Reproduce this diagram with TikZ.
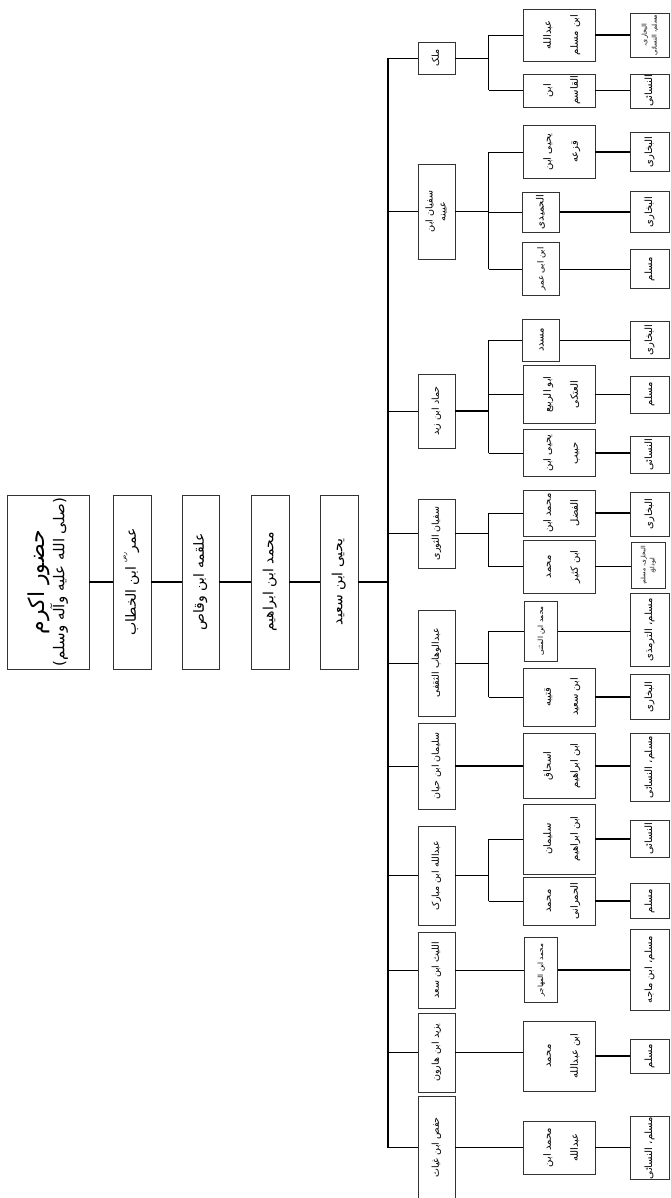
\documentclass[tikz,border=0pt]{standalone}
\usepackage{fontspec}
\usepackage{graphicx}
\newfontfamily\arfont[Script=Arabic]{DejaVu Sans}
\TeXXeTstate=1
\newcommand{\urd}[1]{\beginR #1\endR}
\newcommand{\vt}[3]{\rotatebox{90}{\fontsize{#1}{#2}\selectfont\begin{tabular}{@{}c@{}}#3\end{tabular}}}
\newcommand{\bx}[6]{\node[box, minimum width=#4pt, minimum height=#5pt] (#1) at (#2,#3) {#6};}
\tikzset{
  box/.style={draw=black!80, line width=0.9pt, inner sep=0pt, fill=white, font=\arfont},
  thk/.style={line width=1.8pt},
  thn/.style={line width=0.8pt},
  busline/.style={line width=1.3pt}
}
\begin{document}
\begin{tikzpicture}[x=1pt,y=-1pt]
\useasboundingbox (0,0) rectangle (670,1198);
% chain
\bx{c1}{48}{582}{82}{174}{\rotatebox{90}{\begin{tabular}{@{}c@{}}\fontsize{22}{28}\selectfont\urd{حضور اکرم}\\[2pt]\fontsize{15}{18}\selectfont\urd{(صلی الله علیه وآله وسلم)}\end{tabular}}}
\bx{c2}{132}{582}{38}{174}{\vt{14}{17}{\urd{عمر\raisebox{1.3ex}{\fontsize{6}{7}\selectfont رض} ابن الخطاب}}}
\bx{c3}{200.5}{582}{37}{174}{\vt{14}{17}{\urd{علقمه ابن وقاص}}}
\bx{c4}{270}{582}{38}{174}{\vt{14}{17}{\urd{محمد ابن ابراهیم}}}
\bx{c5}{339}{582}{38}{174}{\vt{14}{17}{\urd{یحیی ابن سعید}}}
\coordinate (busc) at (388,582);
\draw[thk] (c1) -- (c2);
\draw[thk] (c2) -- (c3);
\draw[thk] (c3) -- (c4);
\draw[thk] (c4) -- (c5);
\draw[thk] (c5.east) -- (busc);
% level 1
\bx{L1}{436.5}{58}{37}{32}{\vt{9.5}{12}{\urd{ملک}}}
\bx{L2}{436.5}{211.5}{37}{95}{\vt{9.5}{13}{\urd{سفیان ابن}\\\urd{عیینه}}}
\bx{L3}{436.5}{411}{37}{74}{\vt{9.5}{12}{\urd{حماد ابن زید}}}
\bx{L4}{436.5}{533.5}{37}{69}{\vt{9.5}{12}{\urd{سفیان الثوری}}}
\bx{L5}{436.5}{663}{37}{106}{\vt{9.5}{12}{\urd{عبدالوهاب الثقفی}}}
\bx{L6}{436.5}{766}{37}{86}{\vt{9.5}{12}{\urd{سلیمان ابن حیان}}}
\bx{L7}{436.5}{875.5}{37}{99}{\vt{9.5}{12}{\urd{عبدالله ابن مبارک}}}
\bx{L8}{436.5}{970}{37}{76}{\vt{9.5}{12}{\urd{اللیث ابن سعد}}}
\bx{L9}{436.5}{1052.5}{37}{79}{\vt{9.5}{12}{\urd{یزید ابن هارون}}}
\bx{L10}{436.5}{1147.5}{37}{102}{\vt{9.5}{12}{\urd{حفص ابن غیاث}}}
\draw[busline] (L1.west -| busc) -- (L10.west -| busc);
\foreach \n in {L1,L2,L3,L4,L5,L6,L7,L8,L9,L10} {\draw[thn] (\n.west) -- (\n.west -| busc);}
% level 2
\bx{M1}{559}{35}{72}{52}{\vt{10}{27}{\urd{عبدالله}\\\urd{ابن مسلم}}}
\bx{M2}{559}{90.5}{72}{33}{\vt{10}{27}{\urd{ابن}\\\urd{القاسم}}}
\bx{M3}{559}{152}{72}{53}{\vt{10}{27}{\urd{یحیی ابن}\\\urd{قزعه}}}
\bx{M4}{541.3}{212}{37}{40}{\vt{10}{12}{\urd{الحمیدی}}}
\bx{M5}{541.3}{269}{37}{53}{\vt{8.5}{12}{\urd{ابن ابی عمر}}}
\bx{M6}{541.3}{340}{37}{42}{\vt{10}{12}{\urd{مسدد}}}
\bx{M7}{559}{394.5}{72}{58}{\vt{10}{27}{\urd{ابو الربیع}\\\urd{العتکی}}}
\bx{M8}{559}{453}{72}{47}{\vt{10}{27}{\urd{یحیی ابن}\\\urd{حبیب}}}
\bx{M9}{559}{513}{72}{46}{\vt{10}{27}{\urd{محمد ابن}\\\urd{الفضل}}}
\bx{M10}{559}{566.7}{72}{53}{\vt{10}{27}{\urd{محمد}\\\urd{ابن کثیر}}}
\bx{M11}{541}{631}{33}{60}{\vt{7.2}{10}{\urd{محمد ابن المثنی}}}
\bx{M12}{559}{697}{72}{58}{\vt{10}{27}{\urd{قتیبه}\\\urd{ابن سعید}}}
\bx{M13}{559}{766}{72}{65}{\vt{10}{27}{\urd{اسحاق}\\\urd{ابن ابراهیم}}}
\bx{M14}{559}{839}{72}{70}{\vt{10}{27}{\urd{سلیمان}\\\urd{ابن ابراهیم}}}
\bx{M15}{559}{901}{72}{48}{\vt{10}{27}{\urd{محمد}\\\urd{الحمرانی}}}
\bx{M16}{541}{970}{33}{65}{\vt{7.2}{10}{\urd{محمد ابن المهاجر}}}
\bx{M17}{559}{1056}{72}{70}{\vt{10}{27}{\urd{محمد}\\\urd{ابن عبدالله}}}
\bx{M18}{559}{1147.5}{72}{53}{\vt{10}{27}{\urd{محمد ابن}\\\urd{عبدالله}}}
\coordinate (jx) at (488.5,0);
% level1 -> junction / level2
\draw[thn] (L1.east) -- (L1.east -| jx);
\draw[thn] (M1.west -| jx) -- (M2.west -| jx);
\foreach \n in {M1,M2} {\draw[thn] (\n.west -| jx) -- (\n.west);}
\draw[thn] (L2.east) -- (L2.east -| jx);
\draw[thn] (M3.west -| jx) -- (M5.west -| jx);
\foreach \n in {M3,M4,M5} {\draw[thn] (\n.west -| jx) -- (\n.west);}
\draw[thk] (L3.east) -- (L3.east -| jx);
\draw[thn] (M6.west -| jx) -- (M8.west -| jx);
\foreach \n in {M6,M7,M8} {\draw[thn] (\n.west -| jx) -- (\n.west);}
\draw[thk] (L4.east) -- (L4.east -| jx);
\draw[thn] (M9.west -| jx) -- (M10.west -| jx);
\foreach \n in {M9,M10} {\draw[thn] (\n.west -| jx) -- (\n.west);}
\draw[thn] (L5.east) -- (L5.east -| jx);
\draw[thn] (M11.west -| jx) -- (M12.west -| jx);
\foreach \n in {M11,M12} {\draw[thn] (\n.west -| jx) -- (\n.west);}
\draw[thk] (L6.east) -- (L6.east -| M13.west);
\draw[thk] (L7.east) -- (L7.east -| jx);
\draw[thn] (M14.west -| jx) -- (M15.west -| jx);
\foreach \n in {M14,M15} {\draw[thn] (\n.west -| jx) -- (\n.west);}
\draw[thn] (L8.east) -- (L8.east -| M16.west);
\draw[thk] (L9.east) -- (L9.east -| M17.west);
\draw[thk] (L10.east) -- (L10.east -| M18.west);
% level 3
\bx{R1}{649.7}{35}{39}{44}{\vt{6.5}{10}{\urd{البخاری،}\\\urd{مسلم، النسائی}}}
\bx{R2}{649.7}{91}{39}{34}{\vt{10}{12}{\urd{النسائی}}}
\bx{R3}{649.7}{152}{39}{39}{\vt{10}{12}{\urd{البخاری}}}
\bx{R4}{649.7}{212}{39}{41}{\vt{10}{12}{\urd{البخاری}}}
\bx{R5}{649.7}{269}{39}{39}{\vt{10}{12}{\urd{مسلم}}}
\bx{R6}{649.7}{340}{39}{37}{\vt{10}{12}{\urd{البخاری}}}
\bx{R7}{649.7}{394.5}{39}{37}{\vt{10}{12}{\urd{مسلم}}}
\bx{R8}{649.7}{455}{39}{37}{\vt{10}{12}{\urd{النسائی}}}
\bx{R9}{649.7}{514}{39}{44}{\vt{10}{12}{\urd{البخاری}}}
\bx{R10}{648}{565.5}{34}{46}{\vt{6}{9}{\urd{البخاری، مسلم،}\\\urd{ابوداؤد}}}
\bx{R11}{649.7}{630}{39}{73}{\vt{10}{12}{\urd{مسلم، الترمذی}}}
\bx{R12}{649.7}{697}{39}{45}{\vt{10}{12}{\urd{البخاری}}}
\bx{R13}{649.7}{767}{39}{68}{\vt{10}{12}{\urd{مسلم، النسائی}}}
\bx{R14}{649.7}{839}{39}{37}{\vt{10}{12}{\urd{النسائی}}}
\bx{R15}{649.7}{901}{39}{35}{\vt{10}{12}{\urd{مسلم}}}
\bx{R16}{649.7}{969.7}{39}{81}{\vt{10}{12}{\urd{مسلم، ابن ماجه}}}
\bx{R17}{649.7}{1056}{39}{34}{\vt{10}{12}{\urd{مسلم}}}
\bx{R18}{649.7}{1148}{39}{63}{\vt{10}{12}{\urd{مسلم، النسائی}}}
% level2 -> level3
\draw[thk] (M1.east) -- (M1.east -| R1.west);
\draw[thn] (M2.east) -- (M2.east -| R2.west);
\draw[thk] (M3.east) -- (M3.east -| R3.west);
\draw[thk] (M4.east) -- (M4.east -| R4.west);
\draw[thn] (M5.east) -- (M5.east -| R5.west);
\draw[thn] (M6.east) -- (M6.east -| R6.west);
\draw[thn] (M7.east) -- (M7.east -| R7.west);
\draw[thk] (M8.east) -- (M8.east -| R8.west);
\draw[thk] (M9.east) -- (M9.east -| R9.west);
\draw[thn] (M10.east) -- (M10.east -| R10.west);
\draw[thn] (M11.east) -- (M11.east -| R11.west);
\draw[thk] (M12.east) -- (M12.east -| R12.west);
\draw[thk] (M13.east) -- (M13.east -| R13.west);
\draw[thk] (M14.east) -- (M14.east -| R14.west);
\draw[thk] (M15.east) -- (M15.east -| R15.west);
\draw[thk] (M16.east) -- (M16.east -| R16.west);
\draw[thk] (M17.east) -- (M17.east -| R17.west);
\draw[thk] (M18.east) -- (M18.east -| R18.west);
\end{tikzpicture}
\end{document}
